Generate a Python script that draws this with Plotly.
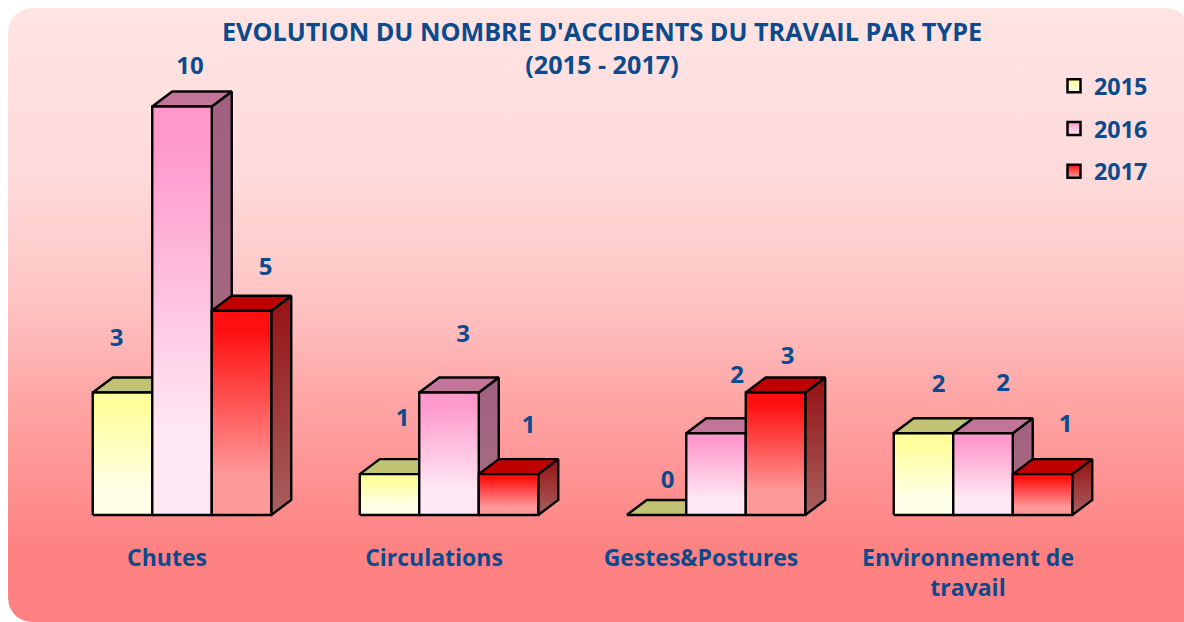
import numpy as np
import plotly.graph_objects as go

# ---------- data ----------
categories = ["Chutes", "Circulations", "Gestes&Postures", "Environnement de<br>travail"]
years = ["2015", "2016", "2017"]
values_2015 = [3, 1, 0, 2]
values_2016 = [10, 3, 2, 2]
values_2017 = [5, 1, 3, 1]
series = [values_2015, values_2016, values_2017]

title_text = "EVOLUTION DU NOMBRE D'ACCIDENTS DU TRAVAIL PAR TYPE<br>(2015 - 2017)"

# ---------- styles ----------
front_top = ["#ffff99", "#ff99cc", "#ff1010"]
front_bottom = ["#ffffe8", "#ffe8f3", "#ff9898"]
top_face = ["#c2c274", "#c27499", "#c00000"]
side_top = ["#a0a060", "#a05f80", "#951212"]
side_bottom = ["#a8a878", "#a87080", "#a86060"]
panel_stops = [[0, "#ff8080"], [0.12, "#ff8282"], [0.36, "#ffa5a5"],
               [0.52, "#ffc3c3"], [0.72, "#ffdada"], [1, "#ffe4e4"]]
text_blue = "#0b4a8c"
font_family = "Open Sans"

PAGE_W, PAGE_H = 1184, 622
OFF = 8                # the page's own margin
W, H = PAGE_W - OFF, PAGE_H - OFF
baseline_px = 515
px_per_unit = 40.85
group_first_px, group_step_px = 182, 267
bar_w = 59.5 / group_step_px
depth_x = 20 / group_step_px
depth_y = 15 / px_per_unit
tick_shift = 15 / group_step_px

# manual data label offsets in pixels from (bar centre, bar top)
label_dx = [[-6, 8, 24], [13, 14, 20], [11, 21, 12], [15, 20, 23]]
label_dy = [[52, 39, 42], [54, 56, 47], [33, 56, 34], [47, 48, 48]]

fig = go.Figure()

# ---------- background panel ----------
def rounded(x0, y0, x1, y1, r_tl, r_tr, r_br, r_bl):
    xs, ys = [], []
    t = np.linspace(0, np.pi / 2, 12)
    for cx, cy, r, a in [(x0 + r_tl, y0 + r_tl, r_tl, np.pi),
                         (x1 - r_tr, y0 + r_tr, r_tr, 1.5 * np.pi),
                         (x1 - r_br, y1 - r_br, r_br, 0),
                         (x0 + r_bl, y1 - r_bl, r_bl, 0.5 * np.pi)]:
        xs += list(cx + r * np.cos(t + a))
        ys += list(cy + r * np.sin(t + a))
    return xs + xs[:1], ys + ys[:1]

bx, by = rounded(OFF, OFF, PAGE_W + 6, PAGE_H, 24, 24, 2, 24)
fig.add_trace(go.Scatter(
    x=bx, y=by, mode="lines", fill="toself", line=dict(width=0),
    fillgradient=dict(type="vertical", colorscale=panel_stops),
    hoverinfo="skip", showlegend=False, xaxis="x", yaxis="y"))

# ---------- 3D bars ----------
def face(xs, ys, **kw):
    fig.add_trace(go.Scatter(
        x=xs, y=ys, mode="lines", fill="toself",
        line=dict(color="#000000", width=2.4), hoverinfo="skip",
        showlegend=False, xaxis="x2", yaxis="y2", **kw))

for g in range(len(categories)):
    for s in range(len(years)):
        v = series[s][g]
        left = g + (s - 1.5) * bar_w
        right = left + bar_w
        # right side
        if v > 0:
            face([right, right + depth_x, right + depth_x, right, right],
                 [0, depth_y, v + depth_y, v, 0],
                 fillgradient=dict(type="vertical",
                                   colorscale=[[0, side_bottom[s]], [1, side_top[s]]]))
        # top
        face([left, left + depth_x, right + depth_x, right, left],
             [v, v + depth_y, v + depth_y, v, v], fillcolor=top_face[s])
        # front
        if v > 0:
            face([left, right, right, left, left], [0, 0, v, v, 0],
                 fillgradient=dict(type="vertical",
                                   colorscale=[[0, front_bottom[s]], [0.2, front_bottom[s]],
                                               [0.9, front_top[s]], [1, front_top[s]]]))

# ---------- data labels ----------
for s in range(len(years)):
    xs, ys, txt = [], [], []
    for g in range(len(categories)):
        v = series[s][g]
        xs.append(g + (s - 1) * bar_w + label_dx[g][s] / group_step_px)
        ys.append(v + label_dy[g][s] / px_per_unit)
        txt.append(str(v))
    fig.add_trace(go.Scatter(
        x=xs, y=ys, mode="text", text=txt, textposition="middle center",
        textfont=dict(family=font_family, size=24, color=text_blue, weight="bold"),
        hoverinfo="skip", showlegend=False, xaxis="x2", yaxis="y2", cliponaxis=False))

# ---------- legend ----------
for s, y in enumerate(years):
    fig.add_trace(go.Scatter(
        x=[None], y=[None], mode="markers", name=y, legendgroup=y,
        marker=dict(symbol="square", size=13, color=front_top[s],
                    gradient=dict(type="vertical", color=front_bottom[s]),
                    line=dict(color="#000000", width=2.5)),
        xaxis="x2", yaxis="y2"))

y_below = 0.5
fig.update_layout(
    width=W, height=H, autosize=False,
    margin=dict(l=0, r=0, t=0, b=0),
    paper_bgcolor="#ffffff", plot_bgcolor="rgba(0,0,0,0)",
    title=dict(text=title_text, x=(602 - OFF) / W, xanchor="center",
               y=1 - (41 - OFF) / H, yanchor="middle",
               font=dict(family=font_family, size=25.2, color=text_blue, weight="bold")),
    font=dict(family=font_family, color=text_blue),
    showlegend=True,
    legend=dict(x=(1061 - OFF) / W, xanchor="left", y=1 - (64 - OFF) / H, yanchor="top",
                bgcolor="rgba(0,0,0,0)", tracegroupgap=9.5, itemwidth=30, indentation=-7,
                font=dict(family=font_family, size=23.3, color=text_blue, weight="bold")),
    xaxis=dict(domain=[0, 1], range=[OFF, PAGE_W], visible=False, fixedrange=True),
    yaxis=dict(domain=[0, 1], range=[PAGE_H, OFF], visible=False, fixedrange=True),
    xaxis2=dict(domain=[0, 1], anchor="y2",
                range=[(OFF - group_first_px) / group_step_px, (PAGE_W - group_first_px) / group_step_px],
                tickmode="array", tickvals=[g - tick_shift for g in range(len(categories))],
                ticktext=categories,
                ticks="outside", ticklen=2, tickcolor="rgba(0,0,0,0)",
                showgrid=False, zeroline=False, showline=False, fixedrange=True,
                tickfont=dict(family=font_family, size=23, color=text_blue, weight="bold")),
    yaxis2=dict(domain=[(PAGE_H - baseline_px - y_below * px_per_unit) / H, 1], anchor="x2",
                range=[-y_below, (baseline_px - OFF) / px_per_unit], visible=False, fixedrange=True),
)

fig.write_html("out.html", default_width=f"{W}px", default_height=f"{H}px",
               post_script="document.body.style.margin='8px 0 0 8px';")
